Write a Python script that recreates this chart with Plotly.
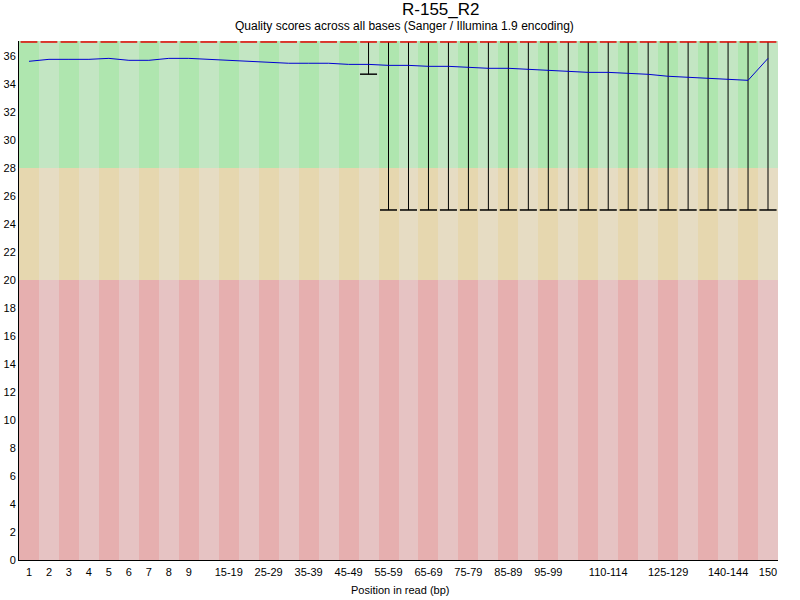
import plotly.graph_objects as go

# ---------------- data ----------------
positions = ["1", "2", "3", "4", "5", "6", "7", "8", "9",
             "10-14", "15-19", "20-24", "25-29", "30-34", "35-39", "40-44",
             "45-49", "50-54", "55-59", "60-64", "65-69", "70-74", "75-79",
             "80-84", "85-89", "90-94", "95-99", "100-104", "105-109",
             "110-114", "115-119", "120-124", "125-129", "130-134",
             "135-139", "140-144", "145-149", "150"]

mean_quality = [35.62, 35.76, 35.76, 35.76, 35.83, 35.69, 35.69, 35.83, 35.83,
                35.76, 35.69, 35.62, 35.55, 35.48, 35.48, 35.48, 35.40, 35.40,
                35.33, 35.33, 35.26, 35.26, 35.19, 35.12, 35.12, 35.05, 34.98,
                34.90, 34.83, 34.83, 34.76, 34.69, 34.55, 34.48, 34.40, 34.33,
                34.26, 35.83]

median_quality = [37] * 38
upper_90 = [37] * 38
lower_10 = [37] * 17 + [34.7] + [25] * 20

shown_xticks = ["1", "2", "3", "4", "5", "6", "7", "8", "9", "15-19", "25-29",
                "35-39", "45-49", "55-59", "65-69", "75-79", "85-89", "95-99",
                "110-114", "125-129", "140-144", "150"]

y_ticks = list(range(0, 37, 2))

# quality bands (poor / reasonable / good)
band_red_top = 20
band_orange_top = 28
y_max = 37.07

title_text = "R-155_R2"
subtitle_text = "Quality scores across all bases (Sanger / Illumina 1.9 encoding)"
xaxis_title = "Position in read (bp)"

# ---------------- styling ----------------
FONT = "Liberation Sans, Arial, sans-serif"
BOX_HALF = 0.42
green = ["#AFE6AF", "#C3E6C3"]
orange = ["#E6D7AF", "#E6DCC3"]
red = ["#E6AFAF", "#E6C3C3"]

n = len(positions)
xs = list(range(n))

fig = go.Figure()

def band(base, height, cols):
    fig.add_trace(go.Bar(
        x=xs, y=[height] * n, base=[base] * n, width=1.0,
        marker=dict(color=[cols[i % 2] for i in xs], line=dict(width=0)),
        hoverinfo="skip", showlegend=False))

band(0, band_red_top, red)
band(band_red_top, band_orange_top - band_red_top, orange)
band(band_orange_top, y_max - band_orange_top, green)

# whisker stems (10th - 90th percentile)
fig.add_trace(go.Scatter(
    x=xs, y=upper_90, mode="markers",
    marker=dict(size=1, color="rgba(0,0,0,0)"),
    error_y=dict(type="data", symmetric=False,
                 array=[0] * n,
                 arrayminus=[u - l for u, l in zip(upper_90, lower_10)],
                 color="black", thickness=1, width=0),
    hoverinfo="skip", showlegend=False))

# lower whisker caps
fig.add_trace(go.Scatter(
    x=xs, y=[l if l < u else None for u, l in zip(upper_90, lower_10)],
    mode="markers",
    marker=dict(size=1, color="rgba(0,0,0,0)"),
    error_y=dict(type="data", symmetric=True, array=[0] * n,
                 color="black", thickness=1, width=8.5),
    hoverinfo="skip", showlegend=False))

# mean line
fig.add_trace(go.Scatter(
    x=xs, y=mean_quality, mode="lines",
    line=dict(color="rgb(0,0,210)", width=1),
    hoverinfo="skip", showlegend=False))

# median markers
fig.add_trace(go.Scatter(
    x=xs, y=median_quality, mode="markers",
    marker=dict(size=1, color="rgba(0,0,0,0)"),
    error_x=dict(type="constant", value=BOX_HALF, color="rgb(225,0,0)",
                 thickness=1.5, width=0),
    hoverinfo="skip", showlegend=False))

fig.update_layout(
    width=800, height=600,
    margin=dict(l=19, r=22, t=41, b=40, autoexpand=False),
    paper_bgcolor="white", plot_bgcolor="white",
    barmode="overlay", bargap=0,
    font=dict(family=FONT, size=11, color="black"),
    xaxis=dict(range=[-0.5, n - 0.5], tickmode="array",
               tickvals=[positions.index(t) for t in shown_xticks],
               ticktext=shown_xticks, showgrid=False, zeroline=False,
               showline=True, linecolor="black", linewidth=1, ticks="",
               ticklabelstandoff=2,
               tickfont=dict(size=11), fixedrange=True, automargin=False),
    yaxis=dict(range=[0, y_max], tickmode="array", tickvals=y_ticks,
               showgrid=False, zeroline=False, showline=True,
               linecolor="black", linewidth=1, ticks="",
               tickfont=dict(size=11), fixedrange=True, automargin=False),
    annotations=[
        dict(text=title_text, xref="paper", yref="paper",
             x=(441 - 19) / 759, y=1 + (41 - 9) / 519, xanchor="center",
             yanchor="middle", showarrow=False, font=dict(size=17)),
        dict(text=subtitle_text, xref="paper", yref="paper",
             x=(404 - 19) / 759, y=1 + (41 - 26) / 519, xanchor="center",
             yanchor="middle", showarrow=False, font=dict(size=12)),
        dict(text=xaxis_title, xref="paper", yref="paper",
             x=(400 - 19) / 759, y=-(590 - 560) / 519, xanchor="center",
             yanchor="middle", showarrow=False, font=dict(size=11)),
    ],
)

fig.write_html("out.html", config={"displayModeBar": False},
               post_script="document.body.style.margin='0';"
                           "document.body.style.overflow='hidden';")
